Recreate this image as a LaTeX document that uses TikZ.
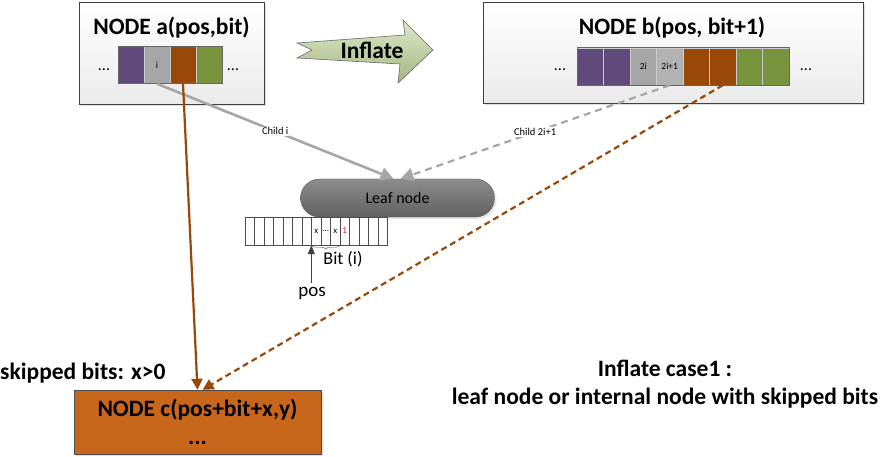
\documentclass[tikz,border=0pt]{standalone}
\usepackage{fontspec}
\setmainfont{Carlito}
\usetikzlibrary{positioning,arrows.meta,shadows,decorations.pathreplacing}
\definecolor{bitpurple}{HTML}{604A7B}
\definecolor{bitgray}{HTML}{A5A5A5}
\definecolor{bitbrown}{HTML}{984807}
\definecolor{bitgreen}{HTML}{77933C}
\definecolor{nodeorange}{HTML}{C8671C}
\definecolor{inflategreen}{HTML}{C3D69B}
\tikzset{
  nodebox/.style={draw=black!75, top color=white, bottom color=black!8, inner sep=0pt,
    drop shadow={opacity=.25, shadow xshift=2pt, shadow yshift=-2pt}},
  bitcell/.style={draw=white!80!black, line width=.5pt, minimum width=26pt, minimum height=37pt,
    inner sep=0pt, font=\fontsize{9.5}{10}\selectfont},
  leafcell/.style={draw=black!70, fill=white, minimum width=9.5pt, minimum height=28pt,
    inner sep=0pt, font=\fontsize{9}{9}\selectfont},
  bigtext/.style={font=\fontsize{23.5}{28}\selectfont\bfseries},
  dotstext/.style={font=\fontsize{16}{16}\selectfont},
  childline/.style={draw=black!35, line width=2.6pt, -{Triangle[length=13pt,width=13pt]}},
  skipline/.style={draw=bitbrown, line width=2.2pt, -{Triangle[length=11pt,width=11pt]}},
  childlabel/.style={fill=white, inner sep=1pt, font=\fontsize{10.5}{11}\selectfont}
}
\begin{document}
\begin{tikzpicture}[x=1pt,y=-1pt]
    \useasboundingbox (0,0) rectangle (888,457);

    \node[nodebox, minimum width=185pt, minimum height=102pt] (boxa) at (171.5,53) {};
    \node[bigtext] (titlea) at (171.5,28) {NODE a(pos,bit)};
    \foreach \c/\t [count=\i] in {bitpurple/,bitgray/i,bitbrown/,bitgreen/}{
        \node[bitcell, fill=\c] (a\i) at (118+26*\i-13,65) {\t};
    }
    \draw[black!60, line width=.5pt] (a1.north west) rectangle (a4.south east);
    \node[dotstext] (adotsl) at (104,70) {...};
    \node[dotstext] (adotsr) at (233,70) {...};

    \node[nodebox, minimum width=380pt, minimum height=101pt] (boxb) at (673,52.5) {};
    \node[bigtext] (titleb) at (672,28) {NODE b(pos, bit+1)};
    \foreach \c/\t [count=\i] in {bitpurple/,bitpurple/,bitgray/2i,bitgray!85!white/2i+1,bitbrown/,bitbrown/,bitgreen/,bitgreen/}{
        \node[bitcell, minimum width=26.5pt, fill=\c] (b\i) at (577+26.5*\i-13.25,66.5) {\t};
    }
    \draw[black!60, line width=.5pt] (b1.north west) rectangle (b8.south east);
    \node[dotstext] (bdotsl) at (560,70) {...};
    \node[dotstext] (bdotsr) at (806,70) {...};

    \draw[black!60, line width=.6pt, top color=inflategreen!55!white, bottom color=inflategreen!85!black]
        (297,43) -- (405,35) -- (403,20) -- (433,50) -- (398,83) -- (400,64) -- (297,58) -- (312,50) -- cycle;
    \node[bigtext] (inflate) at (372,50) {Inflate};

    \node[draw=black!65, top color=black!45, bottom color=black!62, rounded corners=19pt,
        minimum width=194pt, minimum height=38pt, font=\fontsize{16}{16}\selectfont,
        drop shadow={opacity=.2, shadow xshift=2pt, shadow yshift=-2pt}] (leaf) at (397.5,198) {Leaf node};
    \foreach \t [count=\i] in {,,,,,,,x,\dots,x,\textcolor{red}{1},,,,}{
        \node[leafcell] (l\i) at (245+9.5*\i-4.75,231) {\t};
    }
    \draw[decorate, decoration={brace, mirror, amplitude=4pt}, black!70] (l8.south west) -- (l10.south east);
    \node[font=\fontsize{18}{18}\selectfont] (bit) at (343,259) {Bit (i)};
    \node[font=\fontsize{19}{19}\selectfont] (pos) at (312,293) {pos};
    \draw[black!75, line width=1pt, -{Triangle[length=9pt,width=7pt]}] (pos.north -| l8.south west) -- (l8.south west);

    \node[draw=black!70, fill=nodeorange, minimum width=247pt, minimum height=64pt, bigtext, align=center,
        drop shadow={opacity=.25, shadow xshift=2pt, shadow yshift=-2pt}] (nodec) at (197.5,422) {NODE c(pos+bit+x,y)\\...};
    \node[bigtext, anchor=west, inner sep=0pt] (skipped) at (0,373) {skipped bits: x>0};
    \node[bigtext, align=center] (case) at (665,384) {Inflate case1 :\\leaf node or internal node with skipped bits};

    \draw[childline] (a2.south) -- node[childlabel] (childi) {Child i} ([xshift=-4pt]leaf.north);
    \draw[childline, dash pattern=on 7pt off 5pt, line width=2.2pt] (b4.south) -- node[childlabel] (childj) {Child 2i+1} ([xshift=3pt]leaf.north);
    \draw[skipline] (a3.south) -- (nodec.north);
    \draw[skipline, dash pattern=on 6pt off 4pt] (b6.south) -- ([xshift=5pt]nodec.north);
\end{tikzpicture}
\end{document}
